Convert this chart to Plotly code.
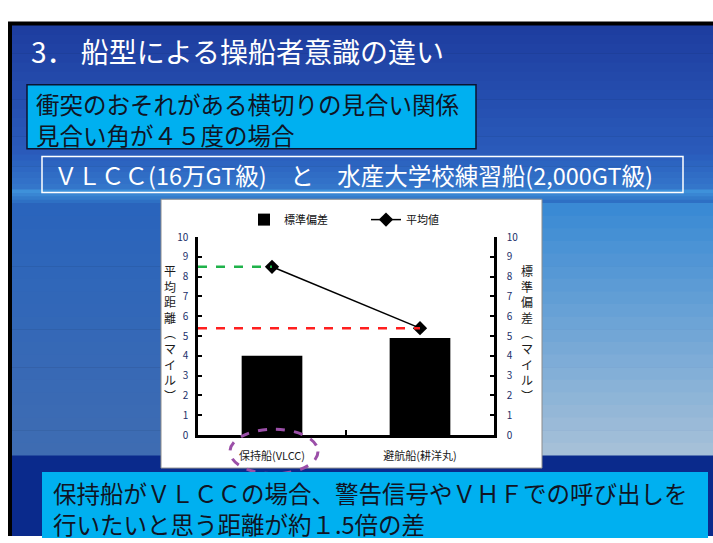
import plotly.graph_objects as go

# ---- data -------------------------------------------------------------
categories = ["保持船(VLCC)", "避航船(耕洋丸)"]
std_dev = [4.0, 4.9]        # 標準偏差 (マイル)
mean_dist = [8.5, 5.4]      # 平均値 (マイル)
y_ticks = list(range(0, 11))

W, H = 713, 543
FONT = "Noto Sans CJK JP"


def px(x):
    return x / W


def py(y):
    return 1 - y / H


shapes = []


def rect(x0, y0, x1, y1, fill, line=None, lw=0, layer="below", dash=None):
    shapes.append(dict(
        type="rect", xref="paper", yref="paper",
        x0=px(x0), x1=px(x1), y0=py(y1), y1=py(y0),
        fillcolor=fill, layer=layer,
        line=dict(color=line or "rgba(0,0,0,0)", width=lw, dash=dash),
    ))


def vgrad(x0, x1, y0, y1, c0, c1, n=12):
    """Vertical colour ramp built from thin strips."""
    step = (y1 - y0) / n
    for i in range(n):
        t = i / max(n - 1, 1)
        c = tuple(round(a + (b - a) * t) for a, b in zip(c0, c1))
        rect(x0, y0 + i * step, x1, y0 + (i + 1) * step + 0.6,
             f"rgb{c}")


# ---- slide backdrop -----------------------------------------------------
rect(8, 13, W, H, "black")
vgrad(12, W, 17, 150, (30, 62, 160), (42, 90, 186), 14)
vgrad(12, W, 150, 186, (42, 95, 190), (52, 118, 202), 6)
vgrad(12, W, 186, 200, (62, 145, 218), (46, 112, 196), 4)
vgrad(12, W, 200, 460, (42, 100, 188), (62, 108, 178), 20)
vgrad(542, W, 200, 460, (58, 138, 212), (165, 192, 216), 20)
rect(12, 460, W, H, "rgb(10,42,140)")

# chart panel
rect(161, 196, 542, 473, "white", line="#8c8c8c", lw=1)

# heading boxes
rect(27, 78, 476, 144, "#00b0f0", line="#0b1530", lw=1.5)
rect(42, 152, 683, 189, "rgba(0,0,0,0)", line="white", lw=1.5)

# ---- chart ------------------------------------------------------------
x_pos = [0, 1]

fig = go.Figure()

fig.add_trace(go.Bar(
    x=x_pos, y=std_dev, name="標準偏差", yaxis="y2",
    marker=dict(color="black", line=dict(width=0)), width=0.41,
))
fig.add_trace(go.Scatter(
    x=x_pos, y=mean_dist, name="平均値", mode="lines+markers",
    line=dict(color="black", width=1.5),
    marker=dict(symbol="diamond", size=11, color="black"),
))

# guide lines from the left axis to each mean marker
fig.add_trace(go.Scatter(
    x=[-0.5, x_pos[0]], y=[mean_dist[0]] * 2, mode="lines",
    line=dict(color="#1fb24a", width=2.5, dash="dash"),
    showlegend=False, hoverinfo="skip",
))
fig.add_trace(go.Scatter(
    x=[-0.5, x_pos[1]], y=[mean_dist[1]] * 2, mode="lines",
    line=dict(color="#ff1f1f", width=2.5, dash="dash"),
    showlegend=False, hoverinfo="skip",
))

# purple highlight around the held-course ship label
shapes.append(dict(
    type="circle", xref="paper", yref="paper",
    x0=px(230), x1=px(318), y0=py(479), y1=py(433),
    line=dict(color="#9b4fa8", width=3, dash="dash"),
    layer="above",
))
# caption box at the bottom
rect(42, 477, 708, H + 2, "#00b0f0", layer="above")

tick_font = dict(family=FONT, size=10, color="#22306a")

axis_common = dict(
    range=[0, 10], tickvals=y_ticks, showgrid=False, zeroline=False,
    showline=True, linecolor="black", linewidth=2.5,
    ticks="inside", ticklen=4, tickwidth=2, tickcolor="black",
    tickfont=tick_font,
)

fig.update_layout(
    width=W, height=H,
    margin=dict(l=0, r=0, t=0, b=0),
    paper_bgcolor="white",
    plot_bgcolor="rgba(0,0,0,0)",
    font=dict(family=FONT),
    showlegend=True,
    legend=dict(
        orientation="h", x=px(244), y=py(217), xanchor="left", yanchor="middle",
        font=dict(family=FONT, size=11, color="#111"),
        bgcolor="rgba(0,0,0,0)", entrywidth=77, entrywidthmode="pixels",
        itemwidth=30,
    ),
    xaxis=dict(
        domain=[px(198), px(494)], range=[-0.5, 1.5],
        tickvals=x_pos, ticktext=categories, ticks="",
        showline=True, linecolor="black", linewidth=2.5,
        showgrid=False, zeroline=False,
        tickfont=dict(family=FONT, size=11, color="#1a1a1a"),
        ticklabelstandoff=9,
        minor=dict(tickvals=[0.5], ticks="inside", ticklen=5,
                   tickwidth=2, tickcolor="black"),
    ),
    yaxis=dict(domain=[py(439), py(235)], side="left",
               ticklabelstandoff=5, **axis_common),
    yaxis2=dict(overlaying="y", side="right", anchor="x",
                ticklabelstandoff=8, **axis_common),
    bargap=0.59,
    shapes=shapes,
)


def note(text, x, y, size, color, xanchor="left", **kw):
    fig.add_annotation(
        text=text, x=px(x), y=py(y), xref="paper", yref="paper",
        xanchor=xanchor, yanchor="middle", showarrow=False,
        font=dict(family=FONT, size=size, color=color), **kw,
    )


# axis titles set vertically, one glyph per line
left_title = "平均距離︵マイル︶"
right_title = "標準偏差︵マイル︶"
note("<br>".join(left_title), 170, 334, 12, "#1a1a1a", xanchor="center")
note("<br>".join(right_title), 527, 334, 12, "#1a1a1a", xanchor="center")

# slide texts
note("3． 船型による操船者意識の違い", 29, 43, 28, "white")
note("衝突のおそれがある横切りの見合い関係", 34, 97.5, 23.5, "#101424")
note("見合い角が４５度の場合", 34, 129.5, 23.5, "#101424")
note("ＶＬＣＣ(16万GT級)　と　水産大学校練習船(2,000GT級)", 52, 171, 23.5, "white")
note("保持船がＶＬＣＣの場合、警告信号やＶＨＦでの呼び出しを",
     51, 499, 23.5, "#101424")
note("行いたいと思う距離が約１.5倍の差", 51, 531, 23.5, "#101424")

fig.write_html("out.html")
